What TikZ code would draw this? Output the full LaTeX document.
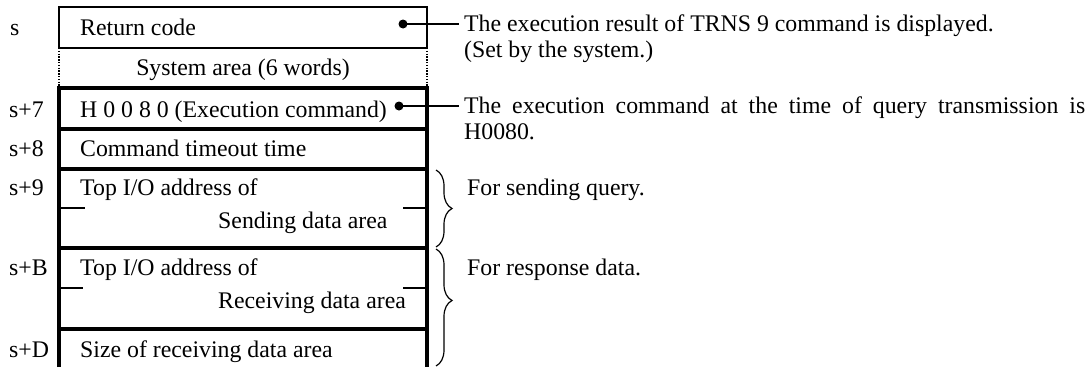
\documentclass[tikz,border=0pt]{standalone}
\usepackage{fontspec}
\setmainfont{Liberation Serif}
\usetikzlibrary{decorations.pathreplacing}
\begin{document}
\begin{tikzpicture}[x=1pt,y=-1pt,
  txt/.style={anchor=base west,inner sep=0pt,font=\fontsize{23.8}{26}\selectfont},
  thinln/.style={line width=1.4pt},
  thickln/.style={line width=3.4pt},
  dotln/.style={line width=1.4pt,dash pattern=on 1.4pt off 1.4pt},
  bul/.style={circle,fill=black,inner sep=0pt,minimum size=9pt},
  lead/.style={line width=1.1pt},
  brc/.style={decorate,decoration={brace,amplitude=16pt},line width=1.2pt}]
\useasboundingbox (0,0) rectangle (1090,367);
% top thin box
\draw[thinln] (59,48) -- (59,7) -- (427,7) -- (427,48) -- cycle;
\draw[dotln] (59,48) -- (59,88);
\draw[dotln] (427,48) -- (427,88);
% thick part
\draw[thickln] (59,367) -- (59,88) -- (427,88) -- (427,367);
\foreach \yy in {129,169,248,329} \draw[thickln] (59,\yy) -- (427,\yy);
% stubs
\draw[thinln] (59,208) -- (85,208);
\draw[thinln] (403,208) -- (427,208);
\draw[thinln] (59,288) -- (83,288);
\draw[thinln] (403,288) -- (427,288);
% left labels
\node[txt] (ls) at (10,35) {s};
\node[txt] (l7) at (9,117) {s+7};
\node[txt] (l8) at (9,156) {s+8};
\node[txt] (l9) at (9,195) {s+9};
\node[txt] (lb) at (9,275) {s+B};
\node[txt] (ld) at (9,357) {s+D};
% box texts
\node[txt] (rc) at (80,35) {Return code};
\node[txt,anchor=base] (sa) at (243,75) {System area (6 words)};
\node[txt] (hc) at (80,117) {H 0 0 8 0 (Execution command)};
\node[txt] (ct) at (80,156) {Command timeout time};
\node[txt] (t1) at (80,195) {Top I/O address of};
\node[txt] (sd) at (218,228) {Sending data area};
\node[txt] (t2) at (80,275) {Top I/O address of};
\node[txt] (rd) at (218,308) {Receiving data area};
\node[txt] (sz) at (80,357) {Size of receiving data area};
% bullets and leaders
\node[bul] (b1) at (403,24) {};
\node[bul] (b2) at (399,106) {};
\coordinate (e1) at (459,24);
\coordinate (e2) at (459,106);
\draw[lead] (b1.center) -- (e1);
\draw[lead] (b2.center) -- (e2);
% right texts
\node[txt] (r1) at (464,31) {The execution result of TRNS 9 command is displayed.};
\node[txt] (r2) at (464,57) {(Set by the system.)};
\node[txt] (r3) at (464,113) {\makebox[621pt][s]{The execution command at the time of query transmission is}};
\node[txt] (r4) at (464,139) {H0080.};
% braces
\coordinate (bA1) at (436,170);
\coordinate (bA2) at (436,247);
\coordinate (bB1) at (436,249);
\coordinate (bB2) at (436,366);
\draw[brc] (bA1) -- (bA2);
\draw[brc,decoration={aspect=0.44}] (bB1) -- (bB2);
\node[txt] (f1) at (467,195) {For sending query.};
\node[txt] (f2) at (467,275) {For response data.};
\end{tikzpicture}
\end{document}
